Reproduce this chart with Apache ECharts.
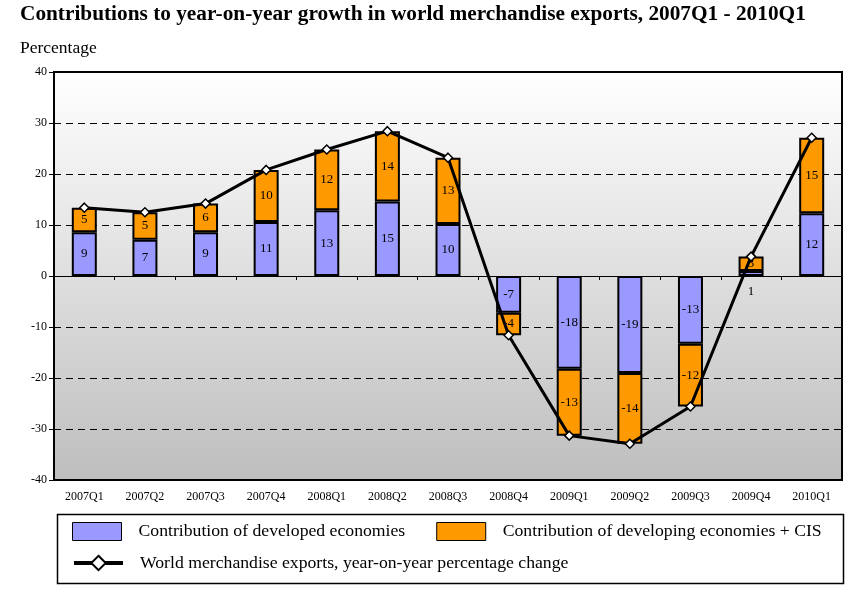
<!DOCTYPE html>
<html>
<head>
<meta charset="utf-8">
<script src="https://cdn.jsdelivr.net/npm/echarts@6/dist/echarts.min.js"></script>
<style>html,body{margin:0;padding:0;background:#fff}#chart{width:854px;height:591px}</style>
</head>
<body>
<div id="chart"></div>
<script>
const categories = ['2007Q1','2007Q2','2007Q3','2007Q4','2008Q1','2008Q2','2008Q3','2008Q4','2009Q1','2009Q2','2009Q3','2009Q4','2010Q1'];
const developed = [8.6, 7.1, 8.6, 10.6, 12.9, 14.6, 10.2, -7.2, -18.2, -19.0, -13.3, 1.0, 12.3];
const developing = [4.8, 5.4, 5.6, 10.2, 11.9, 13.8, 13.0, -4.4, -13.1, -13.9, -12.3, 2.8, 14.8];
const world = [13.4, 12.5, 14.2, 20.8, 24.8, 28.4, 23.2, -11.6, -31.3, -32.9, -25.6, 3.8, 27.1];
const yTicks = [-40, -30, -20, -10, 0, 10, 20, 30, 40];

const seriesNames = ['Contribution of developed economies', 'Contribution of developing economies + CIS', 'World merchandise exports, year-on-year percentage change'];
const FONT = '"Liberation Serif", "Times New Roman", serif';

const chart = echarts.init(document.getElementById('chart'), null, {renderer: 'canvas'});
const labelFmt = p => String(Math.round(p.value));
const barLabel = {show: true, position: 'inside', color: '#000', fontFamily: FONT, fontSize: 13, formatter: labelFmt};

chart.setOption({
  animation: false,
  backgroundColor: '#fff',
  title: [
    {text: 'Contributions to year-on-year growth in world merchandise exports, 2007Q1 - 2010Q1', left: 20, top: 4, padding: 0,
     textStyle: {fontFamily: FONT, fontWeight: 'bold', fontSize: 21.3, color: '#000'}},
    {text: 'Percentage', left: 20, top: 39, padding: 0, textStyle: {fontFamily: FONT, fontWeight: 'normal', fontSize: 17.5, color: '#000'}}
  ],
  grid: {left: 54, right: 12, top: 72, bottom: 111, show: true, borderColor: '#000', borderWidth: 2,
    backgroundColor: new echarts.graphic.LinearGradient(0, 0, 0, 1, [{offset: 0, color: '#ffffff'}, {offset: 1, color: '#bebebe'}])},
  legend: [
    {data: [{name: seriesNames[0], icon: 'rect'}, {name: seriesNames[1], icon: 'rect'}], left: 72, top: 522, itemWidth: 49, itemHeight: 18, itemGap: 31, padding: 0,
     selectedMode: false, itemStyle: {borderWidth: 1, borderColor: '#000'},
     textStyle: {fontFamily: FONT, fontSize: 17.7, color: '#000', padding: [0, 0, 0, 12]}},
    {data: [seriesNames[2]], left: 72, top: 554, itemWidth: 49, itemHeight: 18, padding: 0, selectedMode: false,
     lineStyle: {width: 4, color: '#000'},
     itemStyle: {color: '#fff', borderColor: '#000', borderWidth: 2},
     textStyle: {fontFamily: FONT, fontSize: 17.7, color: '#000', padding: [0, 0, 0, 12]}}
  ],
  graphic: [
    {type: 'rect', left: 55, top: 512, shape: {width: 786, height: 69}, style: {fill: 'none', stroke: '#000', lineWidth: 1.5}, z: 0}
  ],
  xAxis: [
    {type: 'category', data: categories, position: 'bottom', boundaryGap: true,
     axisLine: {onZero: true, lineStyle: {color: '#000', width: 1}},
     axisTick: {show: true, length: 4, interval: 0, lineStyle: {color: '#000'}},
     axisLabel: {show: false}, splitLine: {show: false}},
    {type: 'category', data: categories, position: 'bottom', boundaryGap: true,
     axisLine: {show: false, onZero: false}, axisTick: {show: false},
     axisLabel: {show: true, interval: 0, margin: 11, color: '#000', fontFamily: FONT, fontSize: 12}, splitLine: {show: false}}
  ],
  yAxis: {type: 'value', min: yTicks[0], max: yTicks[yTicks.length - 1], interval: 10,
    axisLine: {show: true, lineStyle: {color: '#000', width: 2}},
    axisTick: {show: true, length: 5, lineStyle: {color: '#000'}},
    axisLabel: {color: '#000', fontFamily: FONT, fontSize: 12, margin: 7},
    splitLine: {show: true, lineStyle: {color: '#000', width: 1, type: [7, 5]}}},
  series: [
    {name: seriesNames[0], type: 'bar', stack: 'c', xAxisIndex: 0, barWidth: 25,
     itemStyle: {color: '#9999FF', borderColor: '#000', borderWidth: 2},
     label: barLabel,
     data: developed.map(v => Math.abs(v) < 2 ? {value: v, label: {position: 'bottom', distance: 9}} : v), z: 2},
    {name: seriesNames[1], type: 'bar', stack: 'c', xAxisIndex: 0, barWidth: 25,
     itemStyle: {color: '#FF9900', borderColor: '#000', borderWidth: 2},
     label: barLabel, data: developing, z: 2},
    {name: seriesNames[2], type: 'line', xAxisIndex: 0, data: world, z: 5,
     symbol: 'diamond', symbolSize: 9, showSymbol: true,
     lineStyle: {color: '#000', width: 3}, itemStyle: {color: '#fff', borderColor: '#000', borderWidth: 1.5}}
  ]
});
</script>
</body>
</html>
